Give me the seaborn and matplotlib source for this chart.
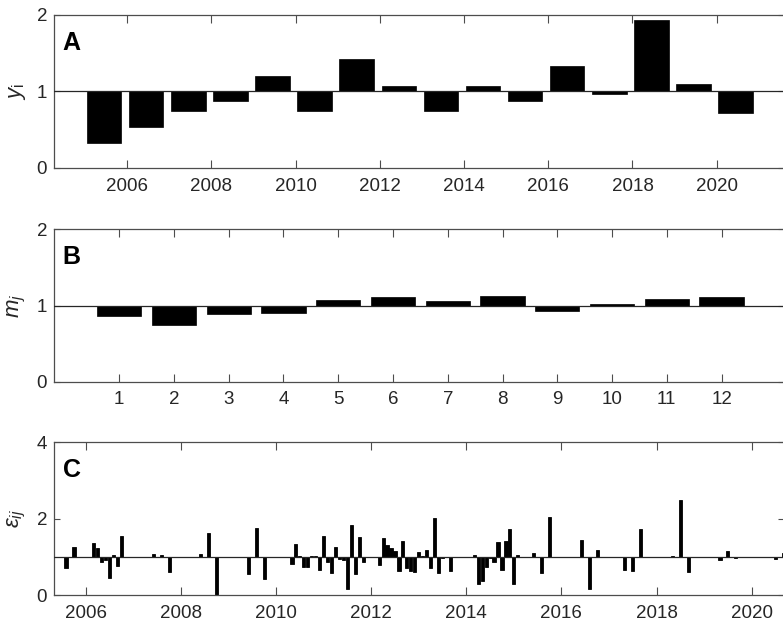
import numpy as np
import pandas as pd
import matplotlib
matplotlib.use("Agg")
import matplotlib.pyplot as plt
import seaborn as sns

# ---------------- data ----------------
# Panel A: yearly factors y_i
years = [2005, 2006, 2007, 2008, 2009, 2010, 2011, 2012,
         2013, 2014, 2015, 2016, 2017, 2018, 2019, 2020]
y_vals = [0.32, 0.53, 0.74, 0.88, 1.20, 0.74, 1.42, 1.07,
          0.74, 1.07, 0.88, 1.33, 0.97, 1.93, 1.09, 0.72]

# Panel B: monthly factors m_j
months = [1, 2, 3, 4, 5, 6, 7, 8, 9, 10, 11, 12]
m_vals = [0.86, 0.74, 0.89, 0.905, 1.07, 1.105, 1.055, 1.13, 0.93, 1.02, 1.09, 1.115]

# Panel C: residuals eps_ij (year-month)
resid_dates = [
    "2005-08", "2005-10", "2006-03", "2006-04", "2006-05", "2006-06", "2006-07", "2006-08",
    "2006-09", "2006-10", "2007-06", "2007-08", "2007-10", "2008-06", "2008-08", "2008-10",
    "2009-06", "2009-08", "2009-10", "2010-05", "2010-06", "2010-07", "2010-08", "2010-09",
    "2010-10", "2010-11", "2010-12", "2011-01", "2011-02", "2011-03", "2011-04", "2011-05",
    "2011-06", "2011-07", "2011-08", "2011-09", "2011-10", "2011-11", "2012-03", "2012-04",
    "2012-05", "2012-06", "2012-07", "2012-08", "2012-09", "2012-10", "2012-11", "2012-12",
    "2013-01", "2013-02", "2013-03", "2013-04", "2013-05", "2013-06", "2013-07", "2013-08",
    "2013-09", "2013-10", "2014-03", "2014-04", "2014-05", "2014-06", "2014-07", "2014-08",
    "2014-09", "2014-10", "2014-11", "2014-12", "2015-01", "2015-02", "2015-06", "2015-08",
    "2015-10", "2016-06", "2016-08", "2016-10", "2017-05", "2017-07", "2017-09", "2018-05",
    "2018-07", "2018-09", "2019-05", "2019-07", "2019-09", "2020-07", "2020-09",
]
resid_vals = [
    0.72, 1.26, 1.37, 1.23, 0.88, 0.92, 0.46, 1.06,
    0.77, 1.56, 1.08, 1.05, 0.60, 1.09, 1.63, 0.00,
    0.56, 1.75, 0.42, 0.83, 1.34, 1.03, 0.75, 0.73,
    1.02, 1.04, 0.66, 1.55, 0.88, 0.57, 1.25, 0.94,
    0.91, 0.17, 1.85, 0.56, 1.53, 0.88, 0.80, 1.50,
    1.31, 1.24, 1.15, 0.64, 1.43, 0.72, 0.63, 0.62,
    1.14, 1.03, 1.18, 0.72, 2.01, 0.59, 0.98, 1.01,
    0.64, 0.99, 1.05, 0.29, 0.37, 0.75, 0.97, 0.88,
    1.40, 0.66, 1.43, 1.73, 0.29, 1.05, 1.10, 0.57,
    2.05, 1.45, 0.17, 1.19, 0.66, 0.64, 1.73, 1.03,
    2.50, 0.60, 0.93, 1.16, 0.98, 0.94, 1.10,
]

year_ticks = [2006, 2008, 2010, 2012, 2014, 2016, 2018, 2020]

# ---------------- style ----------------
sns.set_theme(style="ticks")
plt.rcParams["font.family"] = ["Liberation Sans", "DejaVu Sans"]
plt.rcParams["mathtext.fontset"] = "custom"
plt.rcParams["mathtext.it"] = "Liberation Sans:italic"
plt.rcParams["mathtext.rm"] = "Liberation Sans"
plt.rcParams["mathtext.cal"] = "Liberation Sans"
plt.rcParams["mathtext.bf"] = "Liberation Sans:bold"

SPINE = "#4d4d4d"
TEXT = "#262626"

W, H = 783, 626
fig = plt.figure(figsize=(W / 100, H / 100), dpi=100)


def add_ax(top, bottom, left=54, right=784):
    return fig.add_axes([left / W, (H - bottom) / H, (right - left) / W, (bottom - top) / H])


axA = add_ax(14.7, 168)
axB = add_ax(229.3, 381.7)
axC = add_ax(442.3, 595.3)

# decimal time positions
mid_year = 0.45
dfA = pd.DataFrame({"t": np.array(years, float) + mid_year,
                    "dev": np.array(y_vals) - 1.0})
dfB = pd.DataFrame({"month": np.array(months, float),
                    "dev": np.array(m_vals) - 1.0})
dt = pd.to_datetime(resid_dates, format="%Y-%m")
dfC = pd.DataFrame({"t": dt.year + (dt.month - 1) / 12.0,
                    "dev": np.array(resid_vals) - 1.0})

bar_kw = dict(color="black", saturation=1, errorbar=None, bottom=1.0,
              orient="x", native_scale=True, edgecolor="black")

sns.barplot(data=dfA, x="t", y="dev", width=0.82, linewidth=0.5, ax=axA, **bar_kw)
sns.barplot(data=dfB, x="month", y="dev", width=0.81, linewidth=0.5, ax=axB, **bar_kw)
sns.barplot(data=dfC, x="t", y="dev", width=0.8, linewidth=0.6, ax=axC, **bar_kw)

for ax in (axA, axB, axC):
    ax.axhline(1.0, color=TEXT, lw=0.9, zorder=3)
    for sp in ax.spines.values():
        sp.set_visible(True)
        sp.set_color(SPINE)
        sp.set_linewidth(0.9)
    ax.tick_params(axis="x", direction="in", top=True, bottom=True, length=5.5,
                   width=0.8, color=SPINE, labelsize=13.5, labelcolor=TEXT, pad=7)
    ax.tick_params(axis="y", direction="in", left=True, right=True, length=4,
                   width=0.8, color=SPINE, labelsize=13.5, labelcolor=TEXT, pad=5)
    ax.set_xlabel("")
    ax.grid(False)

# Panel A
axA.set_xlim(2004.26, 2021.6)
axA.set_ylim(0, 2)
axA.set_xticks(year_ticks)
axA.set_xticklabels([str(y) for y in year_ticks])
axA.set_yticks([0, 1, 2])
axA.set_ylabel(r"$y_{\mathrm{i}}$", fontsize=16, color=TEXT)

# Panel B
axB.set_xlim(-0.19, 13.14)
axB.set_ylim(0, 2)
axB.set_xticks(months)
axB.set_xticklabels([str(m) for m in months])
axB.set_yticks([0, 1, 2])
axB.set_ylabel(r"$m_j$", fontsize=16, color=TEXT)

# Panel C
axC.set_xlim(2005.33, 2020.68)
axC.set_ylim(0, 4)
axC.set_xticks(year_ticks)
axC.set_xticklabels([str(y) for y in year_ticks])
axC.set_yticks([0, 2, 4])
axC.set_ylabel(r"$\varepsilon_{ij}$", fontsize=16, color=TEXT)

for ax, letter in ((axA, "A"), (axB, "B"), (axC, "C")):
    ax.yaxis.set_label_coords(-0.036, 0.5)
    ax.text(0.012, 0.77, letter, transform=ax.transAxes, fontsize=18,
            fontweight="bold", color="black", ha="left", va="baseline")

fig.savefig("out.png", dpi=100)
